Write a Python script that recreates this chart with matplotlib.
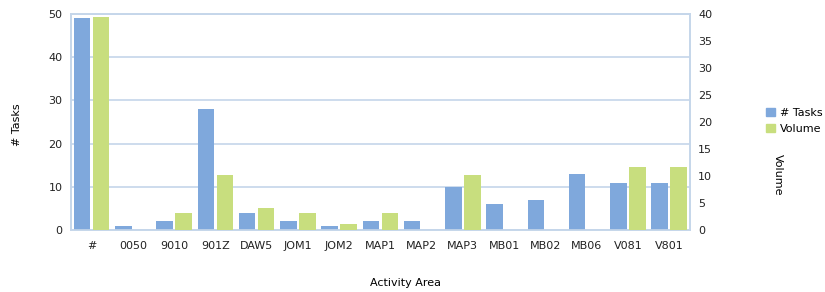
import numpy as np
import matplotlib.pyplot as plt
from matplotlib.patches import Patch

areas = ['#', '0050', '9010', '901Z', 'DAW5', 'JOM1', 'JOM2', 'MAP1', 'MAP2',
         'MAP3', 'MB01', 'MB02', 'MB06', 'V081', 'V801']
tasks = [49, 1, 2, 28, 4, 2, 1, 2, 2, 10, 6, 7, 13, 11, 11]
volume = [39.4, 0, 3.1, 10.2, 4.0, 3.1, 1.05, 3.1, 0, 10.2, 0, 0, 0, 11.7, 11.7]

blue = '#7fa8dc'
green = '#c8de7e'
grid_col = '#c5d6ea'

fig = plt.figure(figsize=(8.25, 2.92), dpi=100)
ax = fig.add_axes([0.086, 0.212, 0.75, 0.74])
ax2 = ax.twinx()

x = np.arange(len(areas))
ax.bar(x - 0.23, tasks, width=0.4, color=blue, zorder=3)
ax2.bar(x + 0.23, volume, width=0.4, color=green, zorder=3)

ax.set_ylim(0, 50)
ax2.set_ylim(0, 40)
ax.set_xlim(-0.5, len(areas) - 0.5)
ax.set_yticks([0, 10, 20, 30, 40, 50])
ax2.set_yticks([0, 5, 10, 15, 20, 25, 30, 35, 40])
ax.set_xticks(x)
ax.set_xticklabels(areas)
ax.yaxis.grid(True, color=grid_col, linewidth=1.2, zorder=0)
ax.set_axisbelow(True)

for a in (ax, ax2):
    for s in a.spines.values():
        s.set_color(grid_col)
        s.set_linewidth(1.2)
    a.tick_params(length=0, labelsize=8, colors='#222222', pad=6)
ax.tick_params(axis='x', pad=8)

# axis titles placed where the original has them
ax.set_ylabel('# Tasks', fontsize=8)
ax.yaxis.set_label_coords(-0.079, 0.486)
ax2.set_ylabel('Volume', fontsize=8, rotation=270, va='center')
ax2.yaxis.set_label_coords(1.142, 0.255)
ax.set_xlabel('Activity Area', fontsize=8, va='center')
ax.xaxis.set_label_coords(0.541, -0.245)

handles = [Patch(color=blue, label='# Tasks'), Patch(color=green, label='Volume')]
fig.legend(handles=handles, loc='center left', bbox_to_anchor=(0.922, 0.586),
           frameon=False, fontsize=8, handlelength=0.8, handleheight=0.8,
           handletextpad=0.4, labelspacing=0.55, borderpad=0)

fig.savefig('out.png', dpi=100)
